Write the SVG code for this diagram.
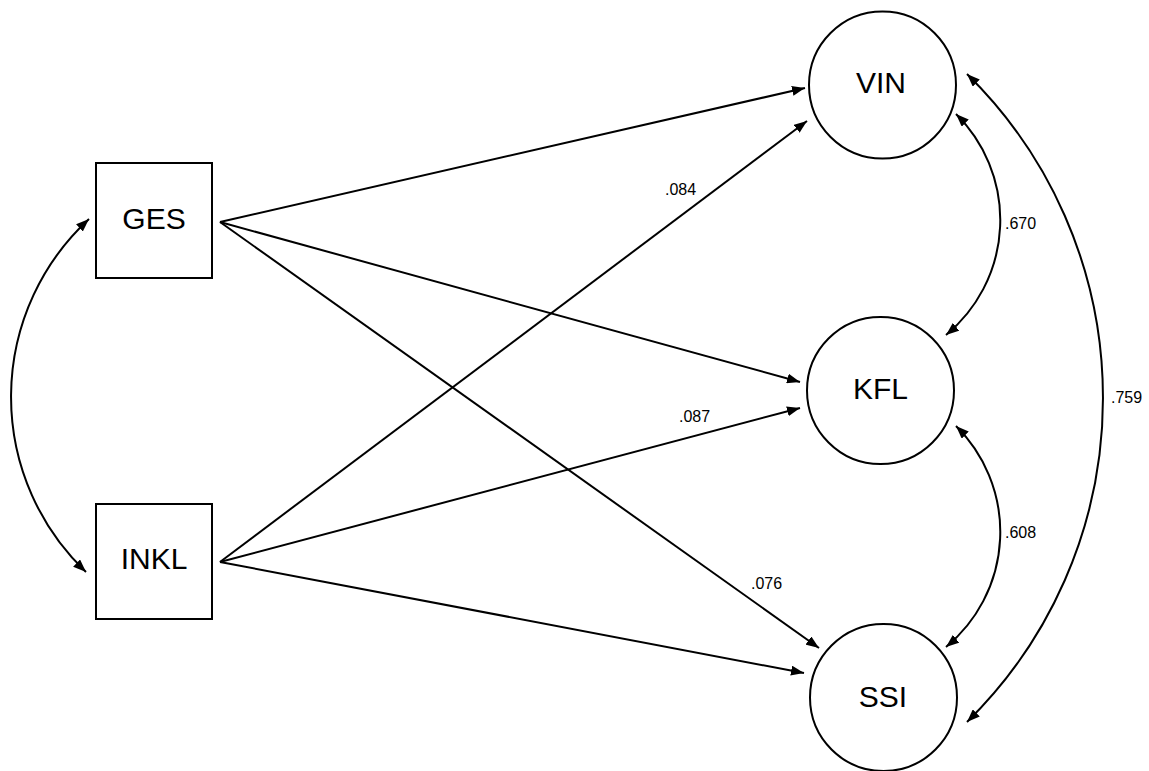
<svg xmlns="http://www.w3.org/2000/svg" width="1149" height="771" viewBox="0 0 1149 771">
<defs>
<style>
.node{fill:#fff;stroke:#000;stroke-width:2}
.lbl{font-family:"Liberation Sans",Arial,sans-serif;font-size:30px;fill:#000;text-anchor:middle}
.coef{font-family:"Liberation Sans",Arial,sans-serif;font-size:16px;fill:#000}
.edge{fill:none;stroke:#000;stroke-width:2}
</style>
<marker id="ah" markerUnits="userSpaceOnUse" markerWidth="14" markerHeight="10" refX="13" refY="5" orient="auto-start-reverse" viewBox="0 0 14 10">
<path d="M0,0 L13,5 L0,10 Z" fill="#000"/>
</marker>
</defs>
<rect width="1149" height="771" fill="#fff"/>
<g id="connectors">
<line class="edge" x1="220" y1="222" x2="805" y2="88" marker-end="url(#ah)"/>
<line class="edge" x1="220" y1="222" x2="800" y2="382" marker-end="url(#ah)"/>
<line class="edge" x1="220" y1="222" x2="819" y2="648" marker-end="url(#ah)"/>
<line class="edge" x1="220" y1="562" x2="807" y2="121" marker-end="url(#ah)"/>
<line class="edge" x1="220" y1="562" x2="800" y2="408" marker-end="url(#ah)"/>
<line class="edge" x1="220" y1="562" x2="804" y2="673" marker-end="url(#ah)"/>
<path class="edge" d="M89,219 A242,242 0 0 0 86,572" marker-start="url(#ah)" marker-end="url(#ah)"/>
<path class="edge" d="M956,114 A149,149 0 0 1 946,335" marker-start="url(#ah)" marker-end="url(#ah)"/>
<path class="edge" d="M956,426 A149,149 0 0 1 946,647" marker-start="url(#ah)" marker-end="url(#ah)"/>
<path class="edge" d="M967,74 A454,454 0 0 1 967,722" marker-start="url(#ah)" marker-end="url(#ah)"/>
<text class="coef" x="665" y="195">.084</text>
<text class="coef" x="679" y="422">.087</text>
<text class="coef" x="751" y="589">.076</text>
<text class="coef" x="1005" y="229">.670</text>
<text class="coef" x="1005" y="538">.608</text>
<text class="coef" x="1111" y="403">.759</text>
</g>
<g id="GES"><rect class="node" x="96" y="163" width="116" height="115"/><text class="lbl" x="154" y="229">GES</text></g>
<g id="INKL"><rect class="node" x="96" y="504" width="116" height="115"/><text class="lbl" x="154" y="569">INKL</text></g>
<g id="VIN"><circle class="node" cx="882.5" cy="85" r="73.5"/><text class="lbl" x="881" y="93">VIN</text></g>
<g id="KFL"><circle class="node" cx="880.5" cy="390.5" r="73.5"/><text class="lbl" x="880.5" y="399">KFL</text></g>
<g id="SSI"><circle class="node" cx="883.5" cy="697.5" r="73.5"/><text class="lbl" x="883" y="707">SSI</text></g>
</svg>
